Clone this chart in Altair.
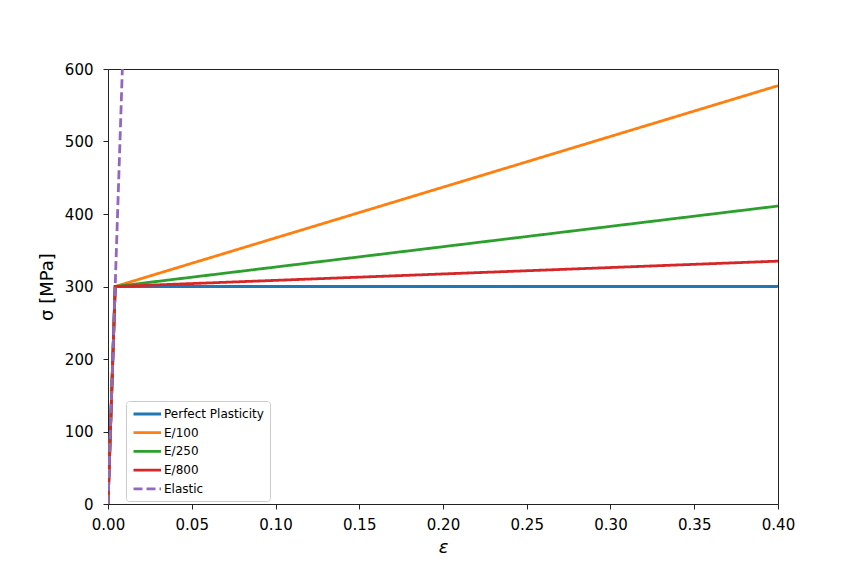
import altair as alt
import pandas as pd

series_names = ["Perfect Plasticity", "E/100", "E/250", "E/800", "Elastic"]
colors = ["#1f77b4", "#ff7f0e", "#2ca02c", "#d62728", "#9467bd"]
dashes = [[1, 0], [1, 0], [1, 0], [1, 0], [9, 4]]

strain_pp = [0.0, 0.00429, 0.40]
stress_pp = [0, 300, 300]
strain_e100 = [0.0, 0.00429, 0.40]
stress_e100 = [0, 300, 577]
strain_e250 = [0.0, 0.00429, 0.40]
stress_e250 = [0, 300, 411]
strain_e800 = [0.0, 0.00429, 0.40]
stress_e800 = [0, 300, 335]
strain_el = [0.0, 0.00857]
stress_el = [0, 600]

x_ticks = [0.0, 0.05, 0.10, 0.15, 0.20, 0.25, 0.30, 0.35, 0.40]
y_ticks = [0, 100, 200, 300, 400, 500, 600]

rows = []
for name, xs, ys in [
    ("Perfect Plasticity", strain_pp, stress_pp),
    ("E/100", strain_e100, stress_e100),
    ("E/250", strain_e250, stress_e250),
    ("E/800", strain_e800, stress_e800),
    ("Elastic", strain_el, stress_el),
]:
    for i, (x, y) in enumerate(zip(xs, ys)):
        rows.append({"series": name, "strain": x, "stress": y, "i": i,
                     "k": series_names.index(name)})
df = pd.DataFrame(rows)

FONT = "DejaVu Sans"

legend = alt.Legend(
    title=None, orient="none", legendX=18, legendY=332,
    symbolType="M-1,0L4,0", symbolSize=121, symbolStrokeWidth=2.8,
    labelFont=FONT, labelFontSize=12, labelColor="black",
    rowPadding=5.7, padding=6, fillColor="rgba(255,255,255,0.8)",
    strokeColor="#cccccc", cornerRadius=3, labelOffset=18,
)

chart = alt.Chart(df).mark_line(strokeWidth=2.8, clip=True).encode(
    x=alt.X("strain:Q", scale=alt.Scale(domain=[0, 0.4], nice=False, zero=False),
            axis=alt.Axis(values=x_ticks, format=".2f", title="ε",
                          titleFontStyle="italic", labelPadding=8)),
    y=alt.Y("stress:Q", scale=alt.Scale(domain=[0, 600], nice=False),
            axis=alt.Axis(values=y_ticks, format="d", title="σ [MPa]", labelPadding=10)),
    color=alt.Color("series:N", scale=alt.Scale(domain=series_names, range=colors),
                    legend=legend, sort=series_names),
    strokeDash=alt.StrokeDash("series:N", scale=alt.Scale(domain=series_names, range=dashes),
                              legend=legend, sort=series_names),
    detail="k:O",
    order="i:Q",
).properties(
    width=670, height=435,
    autosize=alt.AutoSizeParams(type="none"),
    padding={"left": 100, "top": 61, "right": 78, "bottom": 56},
).configure_view(
    stroke="#222222", strokeWidth=1
).configure_axis(
    grid=False, domain=False, tickColor="#222222", tickSize=5, tickWidth=1,
    labelFont=FONT, labelFontSize=15, labelColor="black", labelFlush=False,
    titleFont=FONT, titleFontSize=18, titleColor="black", titleFontWeight="normal",
).configure_axisX(
    titlePadding=6
).configure_axisY(
    titlePadding=8
)

chart.save("out.html", embed_options={"renderer": "svg", "actions": False})
